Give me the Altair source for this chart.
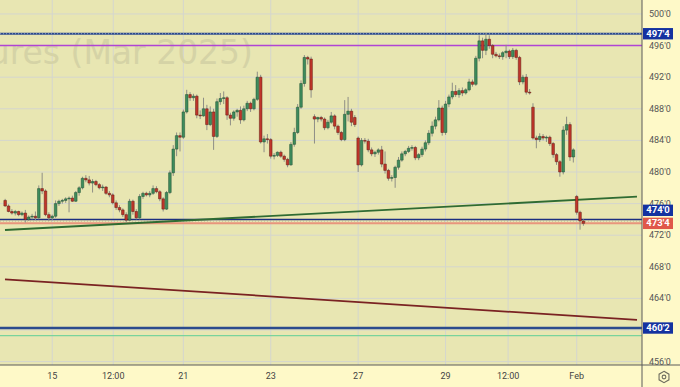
import altair as alt
import pandas as pd

# ---------------- data ----------------
opens = [476.4, 475.7, 475.0, 474.8, 475.0, 474.6, 474.8, 474.0, 474.3, 474.4,
         474.2, 477.9, 477.6, 474.6, 474.2, 474.4, 476.0, 476.3, 476.4, 476.6,
         476.7, 476.3, 477.4, 478.0, 479.2, 479.0, 478.6, 478.8, 478.4, 478.0,
         478.1, 477.3, 477.1, 476.1, 475.5, 475.2, 474.6, 473.9, 476.3, 475.0,
         474.2, 476.9, 477.3, 477.1, 477.3, 477.9, 477.5, 476.6, 475.3, 477.4,
         479.9, 482.9, 484.6, 484.4, 487.6, 489.8, 489.4, 489.6, 487.2, 487.1,
         488.0, 486.0, 487.6, 484.5, 488.9, 489.3, 489.4, 487.2, 486.8, 487.6,
         487.8, 486.6, 488.0, 488.7, 488.0, 489.2, 492.0, 483.8, 484.2, 484.1,
         482.0, 482.1, 482.5, 482.0, 481.6, 480.9, 483.5, 485.0, 488.2, 491.2,
         494.5, 494.3, 487.0, 486.7, 486.9, 486.7, 485.6, 486.3, 487.1, 485.8,
         485.0, 484.1, 487.3, 487.7, 486.9, 484.3, 480.9, 484.0, 483.9, 482.8,
         482.3, 482.5, 482.8, 481.0, 480.2, 479.2, 479.3, 480.6, 481.5, 482.3,
         482.6, 483.0, 483.1, 481.8, 482.2, 482.9, 483.7, 484.9, 485.8, 486.6,
         488.1, 485.0, 488.6, 489.5, 490.2, 489.8, 490.3, 490.0, 490.4, 491.4,
         491.1, 494.4, 496.6, 495.4, 496.8, 496.0, 494.9, 494.7, 494.6, 495.1,
         495.3, 494.6, 495.4, 494.5, 491.4, 492.0, 490.1, 488.2, 484.3, 484.1,
         484.5, 484.3, 484.4, 483.6, 482.2, 481.3, 480.0, 485.3, 486.0, 481.9,
         476.9, 474.9, 473.8]
highs = [476.6, 475.9, 475.3, 475.2, 475.1, 475.0, 475.2, 474.5, 474.7, 475.0,
         478.3, 479.9, 477.8, 474.9, 474.6, 476.4, 476.5, 476.6, 476.8, 476.9,
         477.0, 477.6, 478.2, 479.4, 479.6, 479.5, 479.1, 479.0, 478.6, 478.4,
         478.2, 477.6, 477.3, 476.4, 475.8, 475.4, 474.9, 476.6, 476.5, 475.3,
         477.2, 477.5, 477.5, 477.6, 478.3, 478.2, 477.7, 476.8, 477.6, 480.2,
         483.4, 485.0, 485.0, 487.9, 490.4, 490.1, 489.9, 489.8, 487.8, 489.4,
         488.5, 488.3, 488.0, 489.3, 490.0, 490.2, 489.6, 487.5, 487.8, 488.0,
         488.3, 488.4, 489.0, 488.9, 489.4, 492.7, 492.3, 484.6, 484.8, 484.3,
         482.4, 482.6, 482.7, 482.2, 481.8, 483.8, 485.6, 488.6, 491.6, 494.8,
         494.7, 494.6, 487.3, 487.0, 487.1, 486.9, 486.6, 487.6, 487.3, 486.0,
         485.2, 489.1, 489.5, 488.0, 487.2, 484.5, 484.3, 484.3, 484.2, 483.1,
         482.7, 483.0, 483.3, 482.6, 480.4, 479.6, 480.8, 481.9, 482.6, 482.8,
         483.3, 483.4, 483.3, 482.4, 483.2, 484.0, 485.3, 486.4, 487.0, 489.1,
         488.4, 489.0, 489.8, 491.3, 491.0, 490.6, 490.7, 490.6, 491.8, 491.7,
         494.7, 497.3, 497.0, 497.6, 497.3, 496.2, 495.2, 495.0, 495.3, 496.1,
         495.5, 495.7, 495.6, 494.7, 492.3, 492.4, 490.5, 488.7, 484.6, 484.9,
         484.8, 484.6, 484.6, 483.8, 482.4, 481.5, 485.8, 487.0, 486.3, 483.0,
         477.1, 475.1, 474.0]
lows = [475.6, 474.9, 474.6, 474.5, 474.4, 474.4, 473.6, 473.8, 474.0, 473.9,
        474.0, 477.2, 474.4, 473.8, 473.9, 474.2, 475.7, 476.0, 476.1, 474.9,
        476.2, 476.2, 477.0, 477.8, 478.7, 478.3, 477.4, 478.2, 477.8, 477.6,
        477.1, 476.8, 475.9, 475.2, 474.9, 474.3, 473.6, 473.8, 474.6, 474.0,
        474.0, 476.6, 476.9, 476.8, 477.1, 477.3, 476.3, 475.0, 475.2, 477.2,
        479.5, 482.0, 482.6, 484.2, 487.4, 489.0, 489.0, 486.8, 486.7, 487.0,
        485.3, 485.8, 482.8, 484.3, 488.5, 488.6, 486.6, 485.9, 486.5, 487.0,
        486.1, 486.4, 487.7, 487.6, 487.8, 489.0, 483.6, 482.5, 483.6, 481.7,
        481.6, 481.9, 481.8, 481.3, 480.6, 480.8, 483.2, 484.8, 488.0, 490.8,
        493.6, 489.4, 483.6, 486.3, 486.4, 485.3, 485.4, 486.1, 485.4, 484.7,
        483.9, 483.9, 486.4, 485.8, 485.7, 480.0, 480.7, 483.6, 482.5, 482.0,
        481.9, 482.2, 480.6, 479.8, 478.9, 478.8, 478.0, 480.3, 481.3, 482.0,
        482.4, 482.7, 481.5, 481.5, 481.9, 482.6, 483.4, 484.5, 485.4, 486.4,
        484.6, 484.7, 488.2, 489.2, 489.5, 489.4, 489.6, 489.8, 490.2, 490.8,
        490.9, 494.0, 494.4, 494.8, 495.6, 494.4, 494.5, 494.3, 494.2, 494.4,
        494.3, 494.3, 494.2, 491.0, 491.1, 489.8, 489.8, 484.1, 483.0, 483.8,
        484.0, 483.8, 483.3, 481.8, 480.9, 479.4, 479.7, 484.7, 481.4, 481.2,
        474.6, 472.7, 473.2]
closes = [475.7, 475.0, 474.8, 475.0, 474.6, 474.8, 474.0, 474.3, 474.4, 474.2,
          477.9, 477.6, 474.6, 474.2, 474.4, 476.0, 476.3, 476.4, 476.6, 476.7,
          476.3, 477.4, 478.0, 479.2, 479.0, 478.6, 478.8, 478.4, 478.0, 478.1,
          477.3, 477.1, 476.1, 475.5, 475.2, 474.6, 473.9, 476.3, 475.0, 474.2,
          476.9, 477.3, 477.1, 477.3, 477.9, 477.5, 476.6, 475.3, 477.4, 479.9,
          482.9, 484.6, 484.4, 487.6, 489.8, 489.4, 489.6, 487.2, 487.1, 488.0,
          486.0, 487.6, 484.5, 488.9, 489.3, 489.4, 487.2, 486.8, 487.6, 487.8,
          486.6, 488.0, 488.7, 488.0, 489.2, 492.0, 483.8, 484.2, 484.1, 482.0,
          482.1, 482.5, 482.0, 481.6, 480.9, 483.5, 485.0, 488.2, 491.2, 494.5,
          494.3, 490.4, 486.7, 486.9, 486.7, 485.6, 486.3, 487.1, 485.8, 485.0,
          484.1, 487.3, 487.7, 486.3, 486.0, 480.9, 484.0, 483.9, 482.8, 482.3,
          482.5, 482.8, 481.0, 480.2, 479.2, 479.3, 480.6, 481.5, 482.3, 482.6,
          483.0, 483.1, 481.8, 482.2, 482.9, 483.7, 484.9, 485.8, 486.6, 488.1,
          485.0, 488.6, 489.5, 490.2, 489.8, 490.3, 490.0, 490.4, 491.4, 491.1,
          494.4, 496.6, 495.4, 496.8, 496.0, 494.9, 494.7, 494.6, 495.1, 495.3,
          494.6, 495.4, 494.5, 491.4, 492.0, 490.1, 490.0, 484.3, 484.1, 484.5,
          484.3, 484.4, 483.6, 482.2, 481.3, 480.0, 485.3, 486.0, 481.9, 482.8,
          474.9, 473.8, 473.5]

# x axis: bar-index positions of the time labels
x_tick_pos = [14, 32.15, 53, 79, 105, 131, 149.6, 170]
x_tick_labels = ["15", "12:00", "21", "23", "27", "29", "12:00", "Feb"]
# price scale (460'0 is hidden behind the 460'2 box in the reference)
y_grid = [456, 460, 464, 468, 472, 476, 480, 484, 488, 492, 496, 500]
y_label_vals = [456, 464, 468, 472, 476, 480, 484, 488, 492, 496, 500]
y_label_text = ["456'0", "464'0", "468'0", "472'0", "476'0", "480'0",
                "484'0", "488'0", "492'0", "496'0", "500'0"]

# horizontal levels
level_blue_top = 497.5
level_purple = 496.0
level_blue_mid = 474.0
level_last = 473.5
level_blue_low = 460.25
level_green_low = 459.3

# trend lines (price at left and right edges of the plot)
trend_x = [-0.05, 187.94]
trend_green = [472.66, 476.87]
trend_brown = [466.42, 461.27]

# price boxes on the right scale
box_labels = ["497'4", "474'0", "473'4", "460'2"]
box_prices = [497.5, 474.0, 473.5, 460.25]
box_colors = ["#1432a0", "#1432a0", "#e0584a", "#1432a0"]

watermark = "Corn Futures (Mar 2025)"

# ---------------- chart ----------------
X_DOM = [-0.05, 187.94]
Y_DOM = [455.57, 501.77]
FONT = "Roboto"
PLOT_BG = "#e8e6b2"
PANEL_BG = "#fef9c8"
GRID = "#d4d6ce"

df = pd.DataFrame({"i": list(range(len(opens))), "open": opens, "high": highs,
                   "low": lows, "close": closes})

xscale = alt.Scale(domain=X_DOM, nice=False, zero=False)
yscale = alt.Scale(domain=Y_DOM, nice=False, zero=False)
X = lambda f: alt.X(f, scale=xscale, axis=None, title=None)
Y = lambda f: alt.Y(f, scale=yscale, axis=None, title=None)

one = alt.Chart(pd.DataFrame({"k": [0]}))
plot_bg = one.mark_rect(color=PLOT_BG).encode(
    x=alt.value(0), x2=alt.value(642), y=alt.value(0), y2=alt.value(365))

vgrid = alt.Chart(pd.DataFrame({"v": x_tick_pos})).mark_rule(
    color=GRID, strokeWidth=1).encode(x=X("v:Q"))
hgrid = alt.Chart(pd.DataFrame({"v": y_grid})).mark_rule(
    color=GRID, strokeWidth=1).encode(y=Y("v:Q"))

wm = alt.Chart(pd.DataFrame({"t": [watermark]})).mark_text(
    align="right", baseline="alphabetic", fontSize=33, font="DejaVu Sans",
    color="#d5d3a6").encode(text="t:N", x=alt.value(253), y=alt.value(64))


def hline(price, color, width, dash=None):
    kw = dict(color=color, strokeWidth=width)
    if dash:
        kw["strokeDash"] = dash
    return alt.Chart(pd.DataFrame({"p": [price]})).mark_rule(**kw).encode(
        y=Y("p:Q"), x=alt.value(0), x2=alt.value(642))


lines = [
    hline(level_blue_top, "#2c4a8c", 2.2),
    hline(level_blue_top, "#8fa3cc", 1, [1, 2]),
    hline(level_purple, "#b044d4", 1.5),
    hline(level_blue_mid, "#1c2f80", 1.5),
    hline(level_last + 0.3, "#b8a890", 1, [1, 2]),
    hline(level_last, "#e8957c", 2),
    hline(level_blue_low, "#2b4b8d", 2.5),
    hline(level_green_low, "#79d39c", 1.2),
]

tdf = pd.DataFrame({"x": trend_x * 2, "p": trend_green + trend_brown,
                    "n": ["g", "g", "b", "b"]})
trend_g = alt.Chart(tdf).transform_filter("datum.n == 'g'").mark_line(
    color="#2f6b32", strokeWidth=1.8, clip=True).encode(x=X("x:Q"), y=Y("p:Q"))
trend_b = alt.Chart(tdf).transform_filter("datum.n == 'b'").mark_line(
    color="#7a2222", strokeWidth=1.8, clip=True).encode(x=X("x:Q"), y=Y("p:Q"))

up = "datum.close >= datum.open"
base = alt.Chart(df)
wicks = base.mark_rule(color="#8e8e86", strokeWidth=1).encode(
    x=X("i:Q"), y=Y("low:Q"), y2="high:Q")
bodies = base.mark_bar(size=2.6, strokeWidth=0.5).encode(
    x=X("i:Q"), y=Y("open:Q"), y2="close:Q",
    color=alt.condition(up, alt.value("#3e8c5c"), alt.value("#c0352a")),
    stroke=alt.condition(up, alt.value("#1f4f33"), alt.value("#5e1a12")),
)

# axis labels as text
xlab = alt.Chart(pd.DataFrame({"v": x_tick_pos, "lab": x_tick_labels})).mark_text(
    align="center", baseline="middle", fontSize=9, font=FONT, color="#444444"
).encode(x=X("v:Q"), y=alt.value(376), text="lab:N")
ylab = alt.Chart(pd.DataFrame({"v": y_label_vals, "lab": y_label_text})).mark_text(
    align="left", baseline="middle", fontSize=9, font=FONT, color="#555555"
).encode(x=alt.value(649), y=Y("v:Q"), text="lab:N")

# the 474'0 box is pushed up by TradingView so it does not overlap 473'4
bdf = pd.DataFrame({"lab": box_labels, "p": box_prices, "c": box_colors})
boxes_src = alt.Chart(bdf).transform_calculate(
    pc="datum.lab == \"474'0\" ? datum.p + 1.15 : datum.p").transform_calculate(
    lo="datum.pc - 0.72", hi="datum.pc + 0.72")
boxes = boxes_src.mark_rect().encode(
    x=alt.value(643), x2=alt.value(673),
    y=Y("lo:Q"), y2="hi:Q",
    color=alt.Color("c:N", scale=None))
box_text = boxes_src.mark_text(
    color="white", fontWeight="bold", fontSize=9.5, font=FONT, align="center",
    baseline="middle").encode(x=alt.value(658), y=Y("pc:Q"), text="lab:N")

sep_v = one.mark_rule(color="#5a5a5a", strokeWidth=1).encode(
    x=alt.value(642), y=alt.value(0), y2=alt.value(387))
sep_h = one.mark_rule(color="#5a5a5a", strokeWidth=1).encode(
    x=alt.value(0), x2=alt.value(680), y=alt.value(365))
hexa = one.mark_point(
    shape="M0,-1L0.866,-0.5L0.866,0.5L0,1L-0.866,0.5L-0.866,-0.5Z",
    size=130, filled=False, color="#333333", strokeWidth=1.1).encode(
    x=alt.value(664), y=alt.value(377))
ring = one.mark_point(shape="circle", size=14, filled=False, color="#333333",
                      strokeWidth=1.1).encode(x=alt.value(664), y=alt.value(377))

chart = alt.layer(
    plot_bg, vgrid, hgrid, wm, *lines, trend_g, trend_b, wicks, bodies,
    xlab, ylab, boxes, box_text, sep_v, sep_h, hexa, ring
).properties(
    width=642, height=365,
    padding={"left": 0, "top": 0, "right": 38, "bottom": 22},
    autosize=alt.AutoSizeParams(type="none"),
    background=PANEL_BG,
).configure_view(stroke=None)

chart.save("out.html", embed_options={"renderer": "svg", "actions": False})
